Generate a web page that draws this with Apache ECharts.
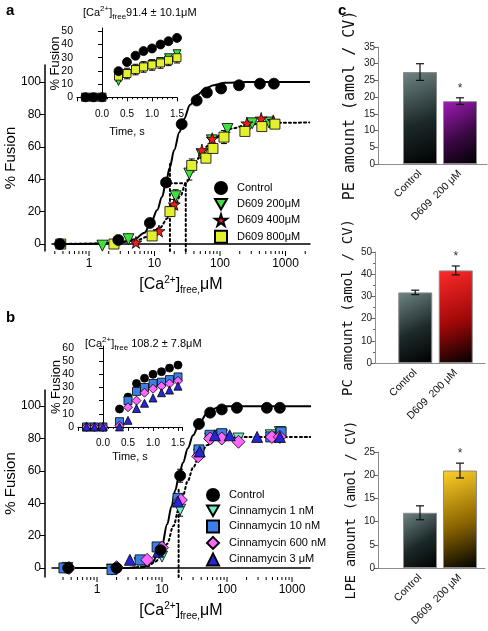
<!DOCTYPE html>
<html><head><meta charset="utf-8">
<script src="https://cdn.jsdelivr.net/npm/echarts@6/dist/echarts.min.js"></script>
<style>html,body{margin:0;padding:0;background:#fff}#c{width:488px;height:631px}</style>
</head><body><div id="c"></div>
<script>
// ---------- Panel a: dose response, D609 ----------
// [Ca2+] (uM), % fusion, error
const aControl   = [[0.36,0,0],[2.8,2.5,0],[8.5,13,1.5],[15,38,2],[26,74,2],[44,88.6,0],[63,93.5,0],[104,96,0],[195,98,0],[407,99,0],[665,99,0]];
const aD609_200  = [[1.6,-1,0],[4,3,0],[21,29.5,4],[34,43.5,4],[53,55,2],[75,64,2],[130,71,2],[310,74.5,0],[560,75,0]];
const aD609_400  = [[5.2,1,0],[11.7,8,0],[20,24.5,3],[53,58,0],[76,65,0],[257,74.5,0],[425,77.5,0],[650,76,0]];
const aD609_800  = [[0.37,0,0],[2.4,0,0],[9.2,5,0],[17.2,20,3],[37,48.5,4],[61,53,0],[78,59,0],[115,66,4],[240,69.5,0],[435,72.5,0],[690,74,0]];
const aControlFit = [[0.3,0],[1,0.1],[3,1],[5,3],[7,7],[9,14],[11,21],[13,29],[15,38],[17,47],[20,58],[24,69],[28,77],[35,86],[45,92],[60,96],[80,98],[120,99.5],[250,100],[2300,100]];
const aD609Fit    = [[0.3,0],[2,0.3],[5,2],[8,4.5],[12,10],[16,16],[20,22.5],[25,30],[30,37.5],[40,48],[50,54.5],[65,60.5],[80,64.5],[110,68.5],[160,71.5],[250,73.5],[500,74.8],[2300,75]];
const aEC50Control = [[17.2,-4.3],[17.2,50]];
const aEC50D609    = [[30,-4.3],[30,37.5]];
const aEC50Link    = [[17.2,37.5],[30,37.5]];
// inset a: time (s), % fusion
const insetTime = [-0.33,-0.17,0,0.33,0.5,0.67,0.83,1.0,1.17,1.33,1.5];
const aInControl = [0,0,0,19.8,26.7,31.5,35,37,40,42.5,45];
const aIn200     = [0,0,0,12,18,21,23,25,27,30,33];
const aIn800     = [0,0,0,16,18,21,23,24.5,26,28,30];
const aIn800Err  = [0,0,0,4,4,4,4,4,4,4,4];

// ---------- Panel b: dose response, Cinnamycin ----------
const bControl = [[0.36,0,0],[2,0,0],[9.5,11,0],[19,57,4],[37,89,0],[55,96,0],[83,98,0],[142,99,0],[410,99,0],[650,99,0]];
const b1nM     = [[0.35,0,0],[1.7,-1,0],[4.5,3,0],[10,7,0],[19,36,4],[37,70,0],[55,80,0],[83,82,0],[150,80,0],[470,82,0],[650,84,0]];
const b10nM    = [[0.31,0,0],[1.7,-1,0],[4.6,5,0],[8.4,13,0],[17.6,43,0],[37,73,0],[55,82,0],[83,83,0],[470,81,0],[680,84,0]];
const b600nM   = [[0.37,0,0],[2.0,0.5,0],[5.9,5,0],[10,12.5,3],[19.5,42,0],[36,69,0],[55,80,0],[83,80,0],[150,78,0],[490,81,0],[650,81,0]];
const b3uM     = [[3.2,5,0],[8.7,10,0],[17.6,41,0],[38,72,0],[65,82,0],[110,82,0],[290,81,0],[650,81,0]];
const bControlFit = [[0.35,0],[1,0],[3,0],[5,0.5],[7,3],[8.5,8],[10,14],[12,27],[14,38],[16,48],[18,56],[21,65],[25,74],[30,82],[38,90],[50,96],[70,99],[100,100],[2000,100]];
const bCinnFit    = [[0.35,0],[3,0],[6,1],[8,4],[10,9],[12,15],[15,26],[18,36],[21,45],[25,54],[30,62],[38,70],[50,76],[70,79.5],[100,80.5],[200,81],[2000,81]];
const bEC50 = [[18,-5.6],[18,50]];
const bInControl = [0,0,0,13.6,22.7,33,37,40,42,44.7,47];
const bIn10nM    = [0,0,0,4,20,27,30,33,34,36,38];
const bIn600nM   = [0,0,0,1,15,20,26,29,31,33,35];
const bIn3uM     = [0,0,0,0,5,14,18,22,26,28,31];

// ---------- Panel c: lipid amounts ----------
const cCategories = ['Control', 'D609  200 μM'];
const peValues = [27.5, 18.8], peErr = [2.5, 1.0], peSig = ['', '*'];
const pcValues = [31.8, 41.7], pcErr = [1.0, 2.0], pcSig = ['', '*'];
const lpeValues = [11.9, 21.0], lpeErr = [1.5, 1.6], lpeSig = ['', '*'];

// axis ticks
const logMajorTicks = [1, 10, 100, 1000];
const aLogMinorTicks = [0.3,0.4,0.5,0.6,0.7,0.8,0.9,2,3,4,5,6,7,8,9,20,30,40,50,60,70,80,90,200,300,400,500,600,700,800,900,2000];
const bLogMinorTicks = [0.3,0.4,0.5,0.6,0.7,0.8,0.9,2,3,4,5,6,7,8,9,20,30,40,50,60,70,80,90,200,300,400,500,600,700,800,900];
const fusionTicks = [0,20,40,60,80,100];
const aInsetTicks = [0,10,20,30,40,50];
const bInsetTicks = [0,10,20,30,40,50,60];

const F = 'Liberation Sans, Arial, sans-serif';
const chart = echarts.init(document.getElementById('c'), null, {renderer:'canvas'});

const zip = (t, v, e) => t.map((x, i) => [x, v[i], e ? e[i] : 0]);
const STAR = 'path://M50,0 L61,35 L98,35 L68,57 L79,91 L50,70 L21,91 L32,57 L2,35 L39,35 Z';
const TRI_DOWN = 'path://M0,0 L12,0 L6,10.4 Z';

function scatter(name, data, xi, yi, symbol, size, color) {
  return {type:'scatter', name, data, xAxisIndex:xi, yAxisIndex:yi, symbol, symbolSize:size, z:5,
    itemStyle:{color, borderColor:'#000', borderWidth:0.8, opacity:1}};
}
function line(data, xi, yi, dotted, w) {
  return {type:'line', data, xAxisIndex:xi, yAxisIndex:yi, showSymbol:false, smooth:0.35, smoothMonotone:'x',
    z:3, silent:true, lineStyle:{color:'#000', width:w || 2, type: dotted ? [2,3] : 'solid', cap:'round'}};
}
function errBars(data, xi, yi) {
  return {type:'custom', data, xAxisIndex:xi, yAxisIndex:yi, z:4, silent:true, clip:false,
    renderItem:(p, api) => {
      const x = api.value(0), y = api.value(1), e = api.value(2);
      if (!e) return null;
      const t = api.coord([x, y + e]), b = api.coord([x, y - e]);
      const st = {stroke:'#000', lineWidth:1};
      return {type:'group', children:[
        {type:'line', shape:{x1:t[0], y1:t[1], x2:b[0], y2:b[1]}, style:st},
        {type:'line', shape:{x1:t[0]-3, y1:t[1], x2:t[0]+3, y2:t[1]}, style:st},
        {type:'line', shape:{x1:b[0]-3, y1:b[1], x2:b[0]+3, y2:b[1]}, style:st}]};
    }};
}
function ticks(vals, xi, yi, yMin, len) {
  return {type:'custom', data: vals.map(v => [v, yMin]), xAxisIndex:xi, yAxisIndex:yi, z:6, silent:true, clip:false,
    renderItem:(p, api) => {
      const pt = api.coord([api.value(0), api.value(1)]);
      return {type:'line', shape:{x1:pt[0], y1:pt[1], x2:pt[0], y2:pt[1] + len}, style:{stroke:'#000', lineWidth:1}};
    }};
}
function barErr(vals, errs, sig, xi, yi) {
  return {type:'custom', data: vals.map((v, i) => [i, v, errs[i]]), xAxisIndex:xi, yAxisIndex:yi, z:6, silent:true, clip:false,
    renderItem:(p, api) => {
      const i = api.value(0), v = api.value(1), e = api.value(2);
      const t = api.coord([i, v + e]), b = api.coord([i, v - e]);
      const st = {stroke:'#111', lineWidth:1.2};
      const ch = [
        {type:'line', shape:{x1:t[0], y1:t[1], x2:b[0], y2:b[1]}, style:st},
        {type:'line', shape:{x1:t[0]-4, y1:t[1], x2:t[0]+4, y2:t[1]}, style:st},
        {type:'line', shape:{x1:b[0]-4, y1:b[1], x2:b[0]+4, y2:b[1]}, style:st}];
      if (sig[p.dataIndex]) ch.push({type:'text', x:t[0], y:t[1] - 3, style:{text:sig[p.dataIndex], fill:'#333', font:'12px ' + F, align:'center', verticalAlign:'bottom'}});
      return {type:'group', children:ch};
    }};
}
const grad = (c1, c2) => ({type:'linear', x:0, y:0, x2:1, y2:1, colorStops:[{offset:0, color:c1}, {offset:0.55, color:c2}, {offset:1, color:'#000'}]});
function bars(vals, colors, xi, yi) {
  return {type:'bar', data: vals.map((v, i) => ({value:v, itemStyle:{color:colors[i]}})), xAxisIndex:xi, yAxisIndex:yi,
    barWidth:34, z:3, itemStyle:{borderColor:'#8a8a8a', borderWidth:1}};
}

const caName = '[Ca{sup|2+}]{sub|free,}μM';
const caRich = {sup:{fontSize:10, fontFamily:F, verticalAlign:'top', lineHeight:10}, sub:{fontSize:10, fontFamily:F, verticalAlign:'bottom', lineHeight:10}};
const axisBlack = {lineStyle:{color:'#000', width:1.5}};

const mainX = (grid, min, max) => ({type:'log', gridIndex:grid, min, max, logBase:10,
  axisLine:axisBlack, axisTick:{show:false}, splitLine:{show:false}, minorTick:{show:false},
  axisLabel:{fontSize:12, fontFamily:F, color:'#000', margin:7,
    formatter: v => { const r = Math.round(v); return logMajorTicks.indexOf(r) >= 0 && Math.abs(v - r) < 1e-6 ? String(r) : ''; }},
  name: caName, nameLocation:'middle', nameGap:24, nameMoveOverlap:false,
  nameTextStyle:{fontSize:16, fontFamily:F, color:'#000', lineHeight:20, rich:caRich}});
const mainY = (grid, min, max) => ({type:'value', gridIndex:grid, min, max, offset:7,
  axisLine:{show:true, lineStyle:{color:'#000', width:1.5}}, splitLine:{show:false},
  axisTick:{show:true, length:5, customValues:fusionTicks, lineStyle:{color:'#000'}},
  axisLabel:{fontSize:12, fontFamily:F, color:'#000', customValues:fusionTicks, margin:4},
  name:'% Fusion', nameLocation:'middle', nameGap:27, nameMoveOverlap:false,
  nameTextStyle:{fontSize:15, fontFamily:F, color:'#000'}});
const insetX = (grid, max, margin, gap) => ({type:'value', gridIndex:grid, min:-0.5, max, interval:0.5,
  axisLine:{lineStyle:{color:'#000', width:1}}, splitLine:{show:false},
  axisTick:{show:true, length:4, lineStyle:{color:'#000'}},
  minorTick:{show:true, splitNumber:5, length:2, lineStyle:{color:'#000'}},
  axisLabel:{fontSize:10, fontFamily:F, color:'#000', margin, formatter: v => v < 0 ? '' : v.toFixed(1)},
  name:'Time, s', nameLocation:'middle', nameGap:gap, nameMoveOverlap:false,
  nameTextStyle:{fontSize:11, fontFamily:F, color:'#000'}});
const insetY = (grid, min, max, tv) => ({type:'value', gridIndex:grid, min, max,
  axisLine:{show:true, lineStyle:{color:'#000', width:1}}, splitLine:{show:false},
  axisTick:{show:true, length:4, customValues:tv, lineStyle:{color:'#000'}},
  axisLabel:{fontSize:10.5, fontFamily:F, color:'#000', customValues:tv, margin:4},
  name:'% Fusion', nameLocation:'middle', nameGap:15, nameMoveOverlap:false,
  nameTextStyle:{fontSize:13, fontFamily:F, color:'#000'}});
const frameX = (grid) => ({type:'value', gridIndex:grid, min:0, max:1, axisLine:{show:true, lineStyle:{color:'#8c8c8c', width:1}},
  axisTick:{show:false}, axisLabel:{show:false}, splitLine:{show:false}});
const frameY = (grid, max, interval, name, nameSize, minor) => ({type:'value', gridIndex:grid, min:0, max, interval,
  axisLine:{show:true, lineStyle:{color:'#8c8c8c', width:1}}, splitLine:{show:false},
  axisTick:{show:true, length:4, lineStyle:{color:'#666'}},
  minorTick:{show:!!minor, splitNumber:2, length:2, lineStyle:{color:'#666'}},
  axisLabel:{fontSize:10, fontFamily:F, color:'#222', margin:3},
  name, nameLocation:'middle', nameGap:20, nameTextStyle:{fontSize:nameSize, fontFamily:'DejaVu Sans Mono, monospace', color:'#111'}});
const barX = (grid) => ({type:'category', gridIndex:grid, data:cCategories, axisLine:{show:false}, axisTick:{show:false},
  axisLabel:{rotate:45, fontSize:10.5, fontFamily:F, color:'#111', margin:8, interval:0}});
const barY = (grid, max) => ({type:'value', gridIndex:grid, min:0, max, show:false});

const G = (o) => Object.assign({outerBoundsMode:'none', containLabel:false}, o);
const titleRich = {sup:{fontSize:8, fontFamily:F, verticalAlign:'top', lineHeight:8}, sub:{fontSize:8, fontFamily:F, verticalAlign:'bottom', lineHeight:8}};
const legendText = {fontSize:11, fontFamily:F, color:'#000', padding:[0,0,0,5]};

const option = {
  animation:false,
  backgroundColor:'#fff',
  title:[
    {text:'a', left:1, top:-2, textStyle:{fontSize:15, fontWeight:'bold', fontFamily:F, color:'#000'}},
    {text:'b', left:1, top:305, textStyle:{fontSize:15, fontWeight:'bold', fontFamily:F, color:'#000'}},
    {text:'c', left:333, top:-2, textStyle:{fontSize:15, fontWeight:'bold', fontFamily:F, color:'#000'}},
    {text:'[Ca{sup|2+}]{sub|free}91.4 ± 10.1μM', left:78, top:0,
      textStyle:{fontSize:11, fontFamily:F, color:'#000', fontWeight:'normal', lineHeight:16, rich:titleRich}},
    {text:'[Ca{sup|2+}]{sub|free} 108.2 ± 7.8μM', left:80, top:331,
      textStyle:{fontSize:11, fontFamily:F, color:'#000', fontWeight:'normal', lineHeight:16, rich:titleRich}}
  ],
  legend:[
    {left:214, top:181, padding:0, orient:'vertical', itemWidth:12, itemHeight:12, itemGap:3, selectedMode:false,
      textStyle:legendText, data:['Control','D609 200μM','D609 400μM','D609 800μM']},
    {left:206, top:488, padding:0, orient:'vertical', itemWidth:12, itemHeight:12, itemGap:2.5, selectedMode:false,
      textStyle:legendText, data:['Control ','Cinnamycin 1 nM','Cinnamycin 10 nM','Cinnamycin 600 nM','Cinnamycin 3 μM']}
  ],
  grid:[
    G({left:52, right:178, top:65, bottom:380}),   // 0 a main
    G({left:77, right:311, top:28, bottom:532}),   // 1 a inset
    G({left:52, right:178, top:390, bottom:54}),   // 2 b main
    G({left:78, right:306, top:346, bottom:203}),  // 3 b inset
    G({left:378, right:1, top:47, bottom:467}),    // 4 PE frame
    G({left:400, right:8, top:47, bottom:467}),    // 5 PE bars
    G({left:375, right:3, top:252, bottom:268}),   // 6 PC frame
    G({left:395, right:12, top:252, bottom:268}),  // 7 PC bars
    G({left:378, right:3, top:452, bottom:63}),    // 8 LPE frame
    G({left:400, right:8, top:452, bottom:63})     // 9 LPE bars
  ],
  xAxis:[
    mainX(0, 0.272, 2367),
    insetX(1, 1.5, 10, 27),
    mainX(2, 0.203, 1890),
    insetX(3, 1.58, 10, 23),
    frameX(4), barX(5), frameX(6), barX(7), frameX(8), barX(9)
  ],
  yAxis:[
    mainY(0, -4.3, 110.5),
    insetY(1, -1.3, 52.5, aInsetTicks),
    mainY(2, -5.6, 110),
    insetY(3, -0.8, 61.5, bInsetTicks),
    frameY(4, 35, 5, 'PE amount (amol / CV)', 15, false), barY(5, 35),
    frameY(6, 50, 10, 'PC amount (amol / CV)', 14, true), barY(7, 50),
    frameY(8, 25, 5, 'LPE amount (amol / CV)', 13.5, false), barY(9, 25)
  ],
  series:[
    // panel a main
    ticks(logMajorTicks, 0, 0, -4.3, 5), ticks(aLogMinorTicks, 0, 0, -4.3, 3),
    line(aControlFit, 0, 0, false, 2), line(aD609Fit, 0, 0, true, 2),
    line(aEC50Control, 0, 0, true, 2), line(aEC50D609, 0, 0, true, 2), line(aEC50Link, 0, 0, true, 2),
    errBars(aControl, 0, 0), errBars(aD609_200, 0, 0), errBars(aD609_400, 0, 0), errBars(aD609_800, 0, 0),
    scatter('D609 200μM', aD609_200, 0, 0, TRI_DOWN, 11, '#3fe03f'),
    scatter('D609 400μM', aD609_400, 0, 0, STAR, 12, '#ee1c1c'),
    scatter('D609 800μM', aD609_800, 0, 0, 'rect', 10, '#e3f030'),
    scatter('Control', aControl, 0, 0, 'circle', 11, '#000'),
    // panel a inset
    errBars(zip(insetTime, aIn800, aIn800Err), 1, 1),
    scatter('D609 200μM', zip(insetTime, aIn200), 1, 1, TRI_DOWN, 8, '#3fe03f'),
    scatter('D609 800μM', zip(insetTime, aIn800), 1, 1, 'rect', 8, '#e3f030'),
    scatter('Control', zip(insetTime, aInControl), 1, 1, 'circle', 9, '#000'),
    // panel b main
    ticks(logMajorTicks, 2, 2, -5.6, 5), ticks(bLogMinorTicks, 2, 2, -5.6, 3),
    line(bControlFit, 2, 2, false, 2), line(bCinnFit, 2, 2, true, 2), line(bEC50, 2, 2, true, 2),
    errBars(bControl, 2, 2), errBars(b1nM, 2, 2), errBars(b600nM, 2, 2),
    scatter('Cinnamycin 1 nM', b1nM, 2, 2, TRI_DOWN, 11, '#6ff0c0'),
    scatter('Cinnamycin 10 nM', b10nM, 2, 2, 'rect', 10, '#3a7fe8'),
    scatter('Cinnamycin 600 nM', b600nM, 2, 2, 'diamond', 13, '#ff66ff'),
    scatter('Cinnamycin 3 μM', b3uM, 2, 2, 'triangle', 11, '#2626d6'),
    scatter('Control ', bControl, 2, 2, 'circle', 11, '#000'),
    // panel b inset
    scatter('Control ', zip(insetTime, bInControl), 3, 3, 'circle', 8, '#000'),
    scatter('Cinnamycin 10 nM', zip(insetTime, bIn10nM), 3, 3, 'rect', 8, '#3a7fe8'),
    scatter('Cinnamycin 600 nM', zip(insetTime, bIn600nM), 3, 3, 'diamond', 9, '#ff66ff'),
    scatter('Cinnamycin 3 μM', zip(insetTime, bIn3uM), 3, 3, 'triangle', 8, '#2626d6'),
    // panel c
    bars(peValues, [grad('#6f8585', '#1c2828'), grad('#a21cb8', '#3a0844')], 5, 5),
    barErr(peValues, peErr, peSig, 5, 5),
    bars(pcValues, [grad('#6f8585', '#1c2828'), grad('#ff2a2a', '#a00808')], 7, 7),
    barErr(pcValues, pcErr, pcSig, 7, 7),
    bars(lpeValues, [grad('#6f8585', '#1c2828'), grad('#ffd028', '#8a6400')], 9, 9),
    barErr(lpeValues, lpeErr, lpeSig, 9, 9)
  ]
};
chart.setOption(option);
</script></body></html>
